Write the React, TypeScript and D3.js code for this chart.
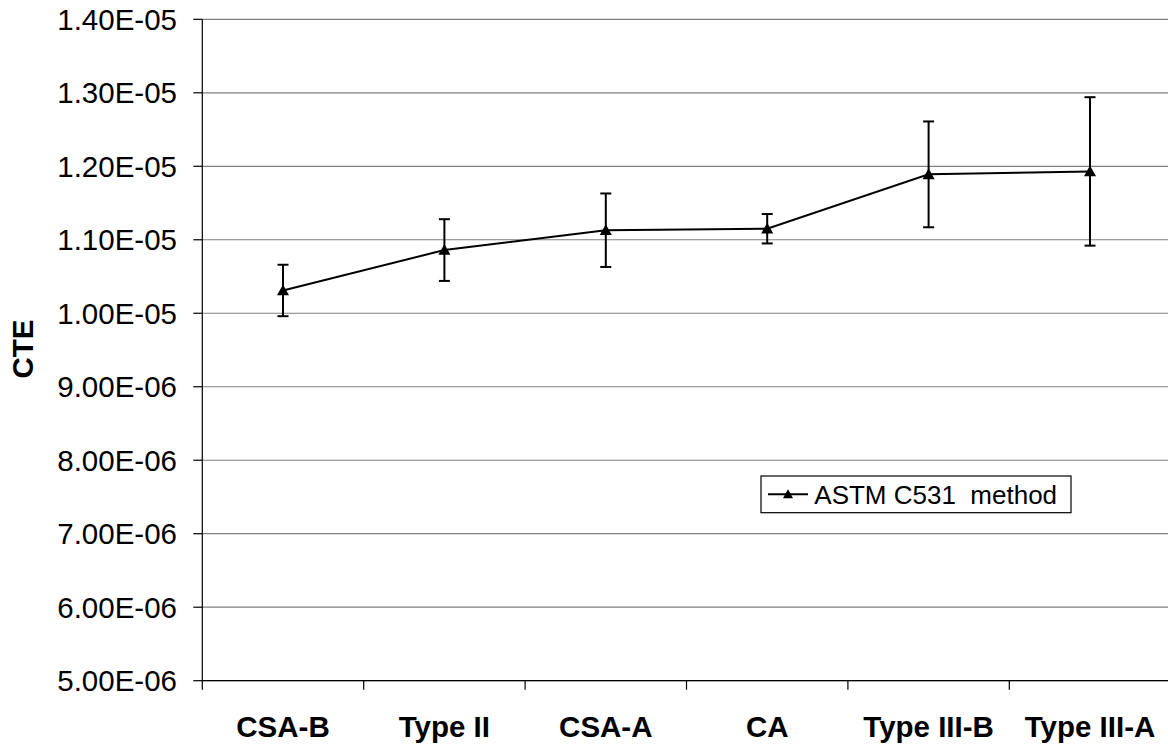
import React from "react";
import * as d3 from "d3";

const categories = ["CSA-B", "Type II", "CSA-A", "CA", "Type III-B", "Type III-A"];
const cteValues = [1.031e-5, 1.086e-5, 1.113e-5, 1.115e-5, 1.189e-5, 1.193e-5];
const cteErrors = [0.35e-6, 0.42e-6, 0.5e-6, 0.2e-6, 0.72e-6, 1.01e-6];
const yTicks = [5e-6, 6e-6, 7e-6, 8e-6, 9e-6, 1e-5, 1.1e-5, 1.2e-5, 1.3e-5, 1.4e-5];
const seriesName = "ASTM C531  method";
const yTitle = "CTE";

function fmt(v: number) {
  const s = v.toExponential(2).toUpperCase();
  const [m, e] = s.split("E");
  const neg = e.startsWith("-");
  const digits = e.replace(/[-+]/, "").padStart(2, "0");
  return `${m}E${neg ? "-" : "+"}${digits}`;
}

export default function App() {
  const W = 1168, H = 746;
  const left = 202.3, right = 1170.7, top = 19.3, bottom = 680.7;
  const x = d3.scaleBand<string>().domain(categories).range([left, right]).padding(0);
  const y = d3.scaleLinear().domain([5e-6, 1.4e-5]).range([bottom, top]);
  const font = "'Liberation Sans', Arial, sans-serif";
  const pts = categories.map((c, i) => [x(c)! + x.bandwidth() / 2, y(cteValues[i])] as [number, number]);
  const line = d3.line()(pts)!;
  const tri = (cx: number, cy: number, s = 6) => `M${cx},${cy - s}L${cx + s},${cy + s * 0.8}L${cx - s},${cy + s * 0.8}Z`;
  const tickXs = categories.map((c) => x(c)!).concat([right]);
  return (
    <svg width={W} height={H} style={{ position: "absolute", left: 0, top: 0, background: "#fff" }}>
      {yTicks.map((t) => (
        <g key={t}>
          <line x1={left} x2={right} y1={y(t)} y2={y(t)} stroke="#808080" strokeWidth={1.2} />
          <line x1={left - 9} x2={left} y1={y(t)} y2={y(t)} stroke="#000" strokeWidth={1.2} />
          <text x={177} y={y(t)} dy="0.36em" textAnchor="end" fontFamily={font} fontSize={29.5} fill="#000">
            {fmt(t)}
          </text>
        </g>
      ))}
      <line x1={left} x2={left} y1={top} y2={bottom} stroke="#000" strokeWidth={1.2} />
      <line x1={left} x2={right} y1={bottom} y2={bottom} stroke="#000" strokeWidth={1.2} />
      {tickXs.map((tx, i) => (
        <line key={i} x1={tx} x2={tx} y1={bottom} y2={bottom + 9} stroke="#000" strokeWidth={1.2} />
      ))}
      {categories.map((c) => (
        <text key={c} x={x(c)! + x.bandwidth() / 2} y={736.5} textAnchor="middle" fontFamily={font} fontWeight="bold" fontSize={29.5} fill="#000">
          {c}
        </text>
      ))}
      <text transform={`translate(33,349) rotate(-90)`} textAnchor="middle" fontFamily={font} fontWeight="bold" fontSize={29.5} fill="#000">
        {yTitle}
      </text>
      {categories.map((c, i) => {
        const cx = x(c)! + x.bandwidth() / 2;
        const y1 = y(cteValues[i] + cteErrors[i]);
        const y2 = y(cteValues[i] - cteErrors[i]);
        return (
          <g key={c} stroke="#000" strokeWidth={2}>
            <line x1={cx} x2={cx} y1={y1} y2={y2} />
            <line x1={cx - 5.5} x2={cx + 5.5} y1={y1} y2={y1} />
            <line x1={cx - 5.5} x2={cx + 5.5} y1={y2} y2={y2} />
          </g>
        );
      })}
      <path d={line} fill="none" stroke="#000" strokeWidth={2} />
      {pts.map(([px, py], i) => (
        <path key={i} d={tri(px, py)} fill="#000" />
      ))}
      <g>
        <rect x={761} y={476} width={310} height={36.7} fill="#fff" stroke="#000" strokeWidth={1.2} />
        <line x1={768} x2={808} y1={494.3} y2={494.3} stroke="#000" strokeWidth={2} />
        <path d={tri(788, 494.3, 5)} fill="#000" />
        <text x={814.3} y={494.3} dy="0.36em" fontFamily={font} fontSize={26} fill="#000" style={{ whiteSpace: "pre" }}>
          {seriesName}
        </text>
      </g>
    </svg>
  );
}
